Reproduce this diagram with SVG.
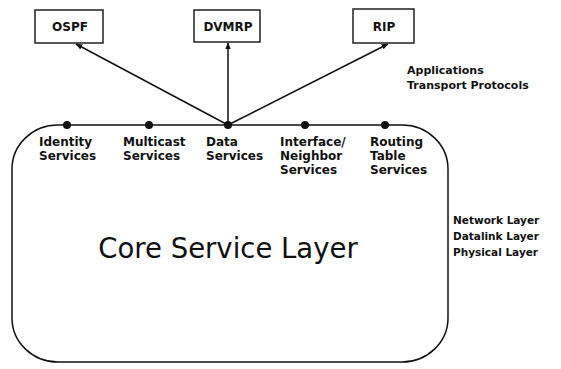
<svg xmlns="http://www.w3.org/2000/svg" width="561" height="369" viewBox="0 0 561 369">
<style>
.box{fill:#fff;stroke:#222;stroke-width:1.5}
.lbl{font-family:"DejaVu Sans",Verdana,sans-serif;font-weight:bold;font-size:11px;fill:#111}
.svc{font-size:12px}
.low{font-size:10.5px}
.big{font-family:"DejaVu Sans",Verdana,sans-serif;font-size:27.5px;fill:#111}
.line{stroke:#111;stroke-width:1.5;fill:none}
.dot{fill:#111}
</style>
<defs>
<marker id="ah" viewBox="0 0 10 10" refX="9" refY="5" markerWidth="7" markerHeight="7" orient="auto" markerUnits="userSpaceOnUse">
<path d="M0,1 L10,5 L0,9 z" fill="#111"/>
</marker>
</defs>
<rect width="561" height="369" fill="#fff"/>
<g id="core">
<rect x="12" y="125" width="436" height="237" rx="46" ry="44" class="line"/>
<text class="big" x="228" y="258" text-anchor="middle">Core Service Layer</text>
</g>
<g id="ospf">
<rect class="box" x="35" y="10" width="68" height="33"/>
<text class="lbl svc" x="70" y="31" text-anchor="middle">OSPF</text>
</g>
<g id="dvmrp">
<rect class="box" x="194" y="10" width="66" height="32"/>
<text class="lbl svc" x="228" y="31" text-anchor="middle">DVMRP</text>
</g>
<g id="rip">
<rect class="box" x="353" y="9" width="61" height="34"/>
<text class="lbl svc" x="384" y="31" text-anchor="middle">RIP</text>
</g>
<g id="connectors">
<line class="line" x1="228" y1="125" x2="76" y2="44" marker-end="url(#ah)"/>
<line class="line" x1="228" y1="125" x2="228" y2="43" marker-end="url(#ah)"/>
<line class="line" x1="228" y1="125" x2="388" y2="44" marker-end="url(#ah)"/>
</g>
<g id="identity">
<circle class="dot" cx="67" cy="125" r="4"/>
<text class="lbl svc" x="39" y="146">Identity<tspan x="39" y="160">Services</tspan></text>
</g>
<g id="multicast">
<circle class="dot" cx="149" cy="125" r="4"/>
<text class="lbl svc" x="123" y="146">Multicast<tspan x="123" y="160">Services</tspan></text>
</g>
<g id="data">
<circle class="dot" cx="228" cy="125" r="4"/>
<text class="lbl svc" x="206" y="146">Data<tspan x="206" y="160">Services</tspan></text>
</g>
<g id="interface">
<circle class="dot" cx="305" cy="125" r="4"/>
<text class="lbl svc" x="280" y="146">Interface/<tspan x="280" y="160">Neighbor</tspan><tspan x="280" y="174">Services</tspan></text>
</g>
<g id="routing">
<circle class="dot" cx="385" cy="125" r="4"/>
<text class="lbl svc" x="370" y="146">Routing<tspan x="370" y="160">Table</tspan><tspan x="370" y="174">Services</tspan></text>
</g>
<g id="upper-layers">
<text class="lbl" x="407" y="74">Applications<tspan x="407" y="89">Transport Protocols</tspan></text>
</g>
<g id="lower-layers">
<text class="lbl low" x="453" y="224">Network Layer<tspan x="453" y="240">Datalink Layer</tspan><tspan x="453" y="256">Physical Layer</tspan></text>
</g>
</svg>
